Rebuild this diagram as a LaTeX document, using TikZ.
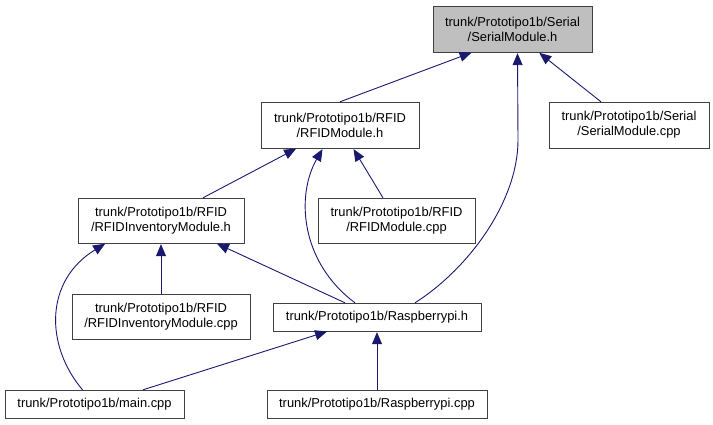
\documentclass[tikz,border=0pt]{standalone}
\usepackage{fontspec}
\setmainfont{Liberation Sans}
\usetikzlibrary{arrows.meta,positioning}
\definecolor{edge}{RGB}{25,25,112}
\tikzstyle{file}=[rectangle,draw=black!75,fill=white,align=center,inner sep=0pt,minimum height=46pt,font=\fontsize{12.9}{15}\selectfont]
\tikzstyle{cur}=[file,fill=black!25]
\tikzstyle{flat}=[file,minimum height=28pt]
\tikzstyle{arr}=[-{Triangle[length=12pt,width=10pt]},draw=edge,line width=0.9pt,shorten >=1pt]

\begin{document}
\begin{tikzpicture}[x=1pt,y=-1pt]
\useasboundingbox (0,0) rectangle (713,424);
\node[cur,minimum width=159pt] (A) at (512.5,29) {trunk/Prototipo1b/Serial\\/SerialModule.h};
\node[file,minimum width=158pt] (B) at (340,125) {trunk/Prototipo1b/RFID\\/RFIDModule.h};
\node[file,minimum width=160pt] (C) at (629,125) {trunk/Prototipo1b/Serial\\/SerialModule.cpp};
\node[file,minimum width=166pt,minimum height=45pt] (D) at (161,220.5) {trunk/Prototipo1b/RFID\\/RFIDInventoryModule.h};
\node[file,minimum width=157pt,minimum height=45pt] (E) at (396.5,220.5) {trunk/Prototipo1b/RFID\\/RFIDModule.cpp};
\node[file,minimum width=178pt,minimum height=45pt] (F) at (161,316.5) {trunk/Prototipo1b/RFID\\/RFIDInventoryModule.cpp};
\node[flat,minimum width=208pt] (G) at (377,317) {trunk/Prototipo1b/Raspberrypi.h};
\node[flat,minimum width=179pt] (H) at (94.5,404) {trunk/Prototipo1b/main.cpp};
\node[flat,minimum width=220pt] (I) at (377,404) {trunk/Prototipo1b/Raspberrypi.cpp};
\draw[arr] (B.north) -- ([xshift=-40pt]A.south);
\draw[arr] ([xshift=-28pt]C.north) -- ([xshift=26pt]A.south);
\draw[arr] ([xshift=38pt]G.north) .. controls +(55,-35) and +(0,60) .. ([xshift=5.5pt,yshift=-88pt]A.south) -- ([xshift=5pt]A.south);
\draw[arr] ([xshift=42pt]D.north) -- ([xshift=-43pt]B.south);
\draw[arr] ([xshift=-22pt]G.north) .. controls +(-55,-41) and +(-27,47) .. ([xshift=-17pt]B.south);
\draw[arr] ([xshift=-13.5pt]E.north) -- ([xshift=13pt]B.south);
\draw[arr] (F.north) -- (D.south);
\draw[arr] ([xshift=-32pt]G.north) -- ([xshift=55pt]D.south);
\draw[arr] ([xshift=-12pt]H.north) .. controls +(-38,-45) and +(-61,37) .. ([xshift=-55pt]D.south);
\draw[arr] ([xshift=48.5pt]H.north) -- ([xshift=-49pt]G.south);
\draw[arr] (I.north) -- (G.south);
\end{tikzpicture}
\end{document}
